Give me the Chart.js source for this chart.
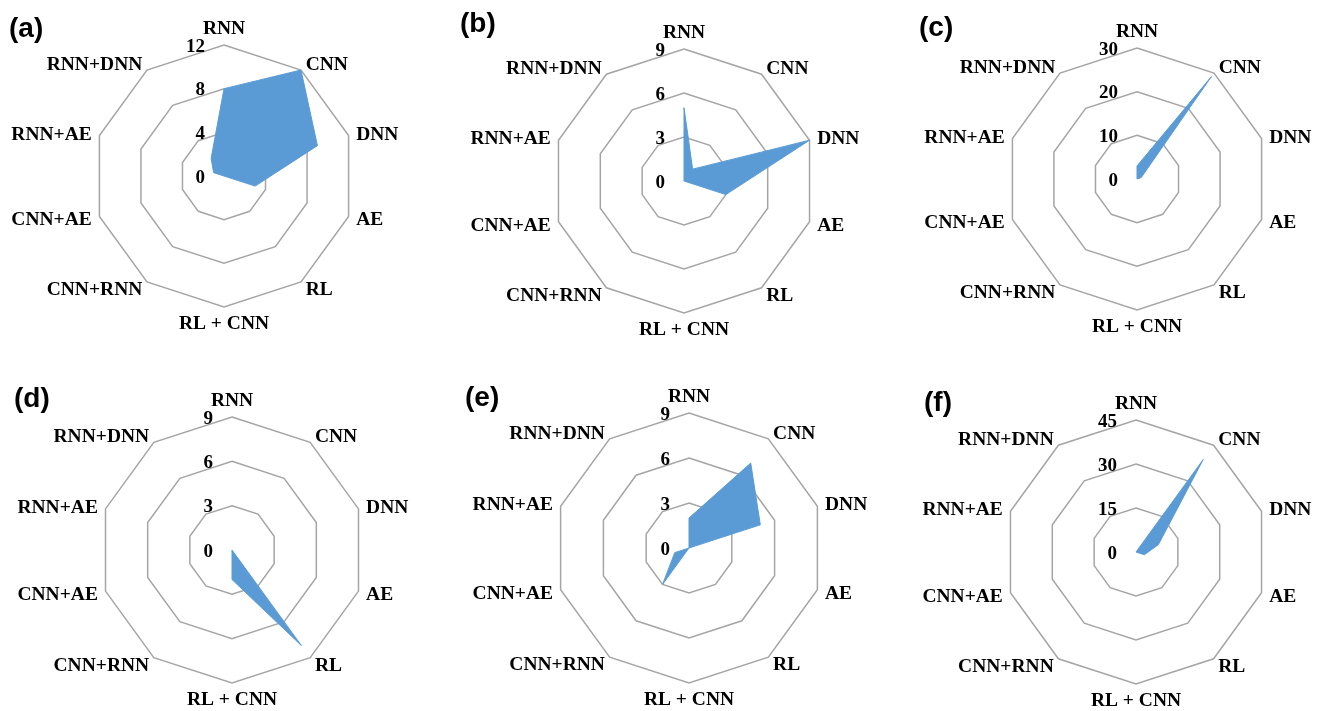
<!DOCTYPE html>
<html>
<head>
<meta charset="utf-8">
<script src="https://cdn.jsdelivr.net/npm/chart.js@4.4.1/dist/chart.umd.min.js"></script>
<style>
  html, body { margin: 0; padding: 0; background: #fff; }
  #page { position: relative; width: 1320px; height: 711px; overflow: hidden; background: #fff; }
  #page canvas { position: absolute; }
  .tag { position: absolute; font: bold 28px "Liberation Sans", Arial, sans-serif; line-height: 28px; color: #000; }
</style>
</head>
<body>
<div id="page"></div>
<script>
// Categories, clockwise from the top
const categories = ["RNN", "CNN", "DNN", "AE", "RL", "RL + CNN", "CNN+RNN", "CNN+AE", "RNN+AE", "RNN+DNN"]

// One series per panel
const valuesA = [8, 12, 9, 3, 0, 0, 0, 0, 1, 2]
const valuesB = [5, 1, 9, 3, 0, 0, 0, 0, 0, 0]
const valuesC = [3, 29, 1, 0, 0, 0, 0, 0, 0, 0]
const valuesD = [0, 0, 0, 0, 8, 2, 0, 0, 0, 0]
const valuesE = [2, 7, 5, 0, 0, 0, 3, 1, 0, 0]
const valuesF = [0, 39, 8, 3, 0, 0, 0, 0, 0, 0]

// Radial tick labels per panel
const ticksA = [0, 4, 8, 12]
const ticksB = [0, 3, 6, 9]
const ticksC = [0, 10, 20, 30]
const ticksD = [0, 3, 6, 9]
const ticksE = [0, 3, 6, 9]
const ticksF = [0, 15, 30, 45]

const panelTags = ["(a)", "(b)", "(c)", "(d)", "(e)", "(f)"]

// Layout only: tile origin, radar centre and radius in page pixels, tag position
const TILE_W = 440
const TILE_H = 355
const panels = [
  {values: valuesA, ticks: ticksA, tile: [0, 0], center: [224, 176], radius: 131, tag: [9, 14]},
  {values: valuesB, ticks: ticksB, tile: [440, 0], center: [684, 181], radius: 132, tag: [460, 9]},
  {values: valuesC, ticks: ticksC, tile: [880, 0], center: [1137, 179], radius: 131, tag: [919, 13]},
  {values: valuesD, ticks: ticksD, tile: [0, 356], center: [232, 550], radius: 133, tag: [14, 384]},
  {values: valuesE, ticks: ticksE, tile: [440, 356], center: [689, 548], radius: 135, tag: [465, 383]},
  {values: valuesF, ticks: ticksF, tile: [880, 356], center: [1136, 552], radius: 132, tag: [924, 388]},
]

const serif = "\"Liberation Serif\", \"Times New Roman\", serif"
const fillBlue = "#5b9bd5"
const gridGray = "#a5a5a5"

// Category and tick labels drawn from the scale geometry
const radarText = {
  id: "radarText",
  afterDraw(chart) {
    const scale = chart.scales.r
    const {ctx} = chart
    const r = scale.drawingArea
    const n = categories.length

    ctx.save()
    ctx.fillStyle = "#000"
    ctx.textBaseline = "alphabetic"
    ctx.font = `bold 19.5px ${serif}`

    categories.forEach((label, i) => {
      if (i === 0) {
        const pos = scale.getPointPosition(i, r + 11.5)
        ctx.textAlign = "center"
        ctx.fillText(label, pos.x, pos.y)
      } else if (i === n / 2) {
        const pos = scale.getPointPosition(i, r + 22)
        ctx.textAlign = "center"
        ctx.fillText(label, pos.x, pos.y)
      } else {
        const pos = scale.getPointPosition(i, r + 8)
        ctx.textAlign = pos.x > scale.xCenter ? "left" : "right"
        ctx.fillText(label, pos.x, pos.y + 6.5)
      }
    })

    const ticks = chart.options.plugins.radarText.ticks
    ctx.font = `bold 19px ${serif}`
    ctx.textAlign = "right"
    ticks.forEach((value) => {
      const y = scale.yCenter - scale.getDistanceFromCenterForValue(value)
      ctx.fillText(String(value), scale.xCenter - 19, y + 6.5)
    })

    ctx.restore()
  },
}

const page = document.getElementById("page")

panels.forEach((panel, index) => {
  const [tx, ty] = panel.tile
  const [cx, cy] = panel.center
  const lx = cx - tx
  const ly = cy - ty
  const r = panel.radius

  const canvas = document.createElement("canvas")
  canvas.width = TILE_W
  canvas.height = TILE_H
  canvas.style.left = `${tx}px`
  canvas.style.top = `${ty}px`
  canvas.style.width = `${TILE_W}px`
  canvas.style.height = `${TILE_H}px`
  page.appendChild(canvas)

  const tag = document.createElement("div")
  tag.className = "tag"
  tag.textContent = panelTags[index]
  tag.style.left = `${panel.tag[0]}px`
  tag.style.top = `${panel.tag[1]}px`
  page.appendChild(tag)

  const ticks = panel.ticks

  new Chart(canvas, {
    type: "radar",
    data: {
      labels: categories,
      datasets: [
        {
          data: panel.values,
          backgroundColor: fillBlue,
          borderColor: fillBlue,
          borderWidth: 1,
          pointRadius: 0,
          pointHoverRadius: 0,
          fill: "origin",
        },
      ],
    },
    options: {
      responsive: false,
      animation: false,
      devicePixelRatio: 1,
      layout: {
        padding: {
          left: lx - r,
          right: TILE_W - lx - r,
          top: ly - r,
          bottom: TILE_H - ly - r,
        },
      },
      plugins: {
        legend: {display: false},
        tooltip: {enabled: false},
        radarText: {ticks},
      },
      scales: {
        r: {
          min: ticks[0],
          max: ticks[ticks.length - 1],
          ticks: {
            display: false,
            stepSize: ticks[1] - ticks[0],
          },
          grid: {
            circular: false,
            color: gridGray,
            lineWidth: 1.5,
          },
          angleLines: {display: false},
          pointLabels: {display: false},
        },
      },
    },
    plugins: [radarText],
  })
})
</script>
</body>
</html>
